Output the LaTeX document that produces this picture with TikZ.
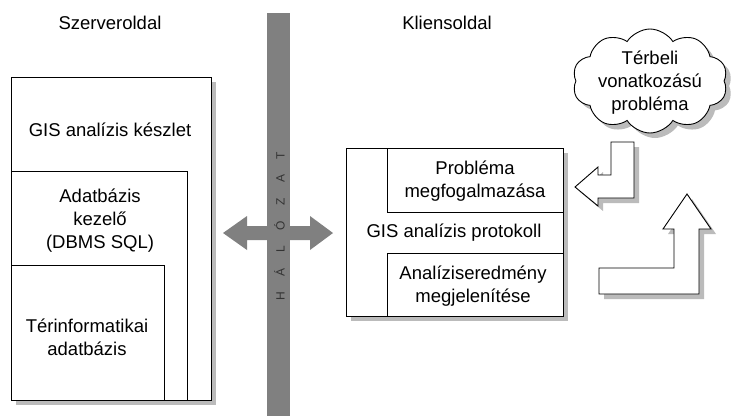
\documentclass[tikz,border=0pt]{standalone}
\usepackage{fontspec}
\setmainfont{Liberation Sans}
\usetikzlibrary{shapes.symbols}
\definecolor{netgray}{HTML}{808080}
\definecolor{shadowgray}{HTML}{BBBBBB}
\definecolor{lettergray}{HTML}{333333}
\tikzset{
  boxshape/.style={draw=black, line width=0.9pt, fill=white, inner sep=0pt, outer sep=0pt, anchor=north west},
  shadowshape/.style={fill=shadowgray, draw=none, inner sep=0pt, outer sep=0pt, anchor=north west},
  label text/.style={font=\fontsize{18.5}{23}\selectfont, align=center, inner sep=0pt},
  blockarrow/.style={draw=black, line width=0.9pt, fill=white},
  cloudshape/.style={cloud, cloud puffs=10, cloud puff arc=115, aspect=1.5, minimum width=155pt, minimum height=104pt, inner sep=0pt}
}
\begin{document}
\begin{tikzpicture}[x=1pt,y=-1pt]
\useasboundingbox (0,0) rectangle (735,416);
% headings
\node[label text] (srvhead) at (110,23) {Szerveroldal};
\node[label text] (clihead) at (447,23) {Kliensoldal};
% network bar
\fill[netgray] (267,13) rectangle (290,416);
\fill[netgray] (223,233) -- (247,216) -- (247,226) -- (310,226) -- (310,216) -- (333,233)
  -- (310,250) -- (310,240) -- (247,240) -- (247,250) -- cycle;
\node[rotate=90, text=lettergray, font=\fontsize{12}{14}\selectfont, inner sep=0pt] (net) at (279.5,226)
  {H\hspace{15.5pt}Á\hspace{15.5pt}L\hspace{15.5pt}Ó\hspace{15.5pt}Z\hspace{15.5pt}A\hspace{15.5pt}T};
% server side
\node[shadowshape, minimum width=200pt, minimum height=323pt] (srvsh) at (16,82) {};
\node[boxshape, minimum width=200pt, minimum height=323pt] (srv) at (11,77) {};
\node[boxshape, minimum width=176pt, minimum height=229pt] (dbms) at (11,171) {};
\node[boxshape, minimum width=153pt, minimum height=135pt] (gisdb) at (11,265) {};
\node[label text] (srvtxt) at (110,130) {GIS analízis készlet};
\node[label text] (dbmstxt) at (100,221) {Adatbázis\\kezelő\\(DBMS SQL)};
\node[label text] (gisdbtxt) at (87,337) {Térinformatikai\\adatbázis};
% client side
\node[shadowshape, minimum width=217pt, minimum height=168pt] (clish) at (351,153) {};
\node[boxshape, minimum width=217pt, minimum height=168pt] (cli) at (346,148) {};
\node[boxshape, minimum width=176pt, minimum height=64pt] (prob) at (387,148) {};
\node[boxshape, minimum width=176pt, minimum height=63pt] (res) at (387,253) {};
\node[label text] (probtxt) at (475,181) {Probléma\\megfogalmazása};
\node[label text] (clitxt) at (454,233) {GIS analízis protokoll};
\node[label text] (restxt) at (473,286) {Analíziseredmény\\megjelenítése};
% cloud
\node[cloudshape, fill=shadowgray] (cloudsh) at (655,86) {};
\node[cloudshape, draw=black, line width=0.9pt, fill=white] (cloud) at (650,81) {};
\node[label text] (cloudtxt) at (650,83) {Térbeli\\vonatkozású\\probléma};
% block arrow 1 (down-left)
\fill[shadowgray] (616,147) -- (639,147) -- (639,203) -- (603,203) -- (603,211) -- (580,192)
  -- (603,172) -- (603,180) -- (616,180) -- cycle;
\draw[blockarrow] (611,142) -- (634,142) -- (634,198) -- (598,198) -- (598,206) -- (575,187)
  -- (598,167) -- (598,175) -- (611,175) -- cycle;
% block arrow 2 (up)
\fill[shadowgray] (604,273) -- (679,273) -- (679,234) -- (668,234) -- (692,199) -- (716,234)
  -- (704,234) -- (704,299) -- (604,299) -- cycle;
\draw[blockarrow] (599,268) -- (674,268) -- (674,229) -- (663,229) -- (687,194) -- (711,229)
  -- (699,229) -- (699,294) -- (599,294) -- cycle;
\end{tikzpicture}
\end{document}
